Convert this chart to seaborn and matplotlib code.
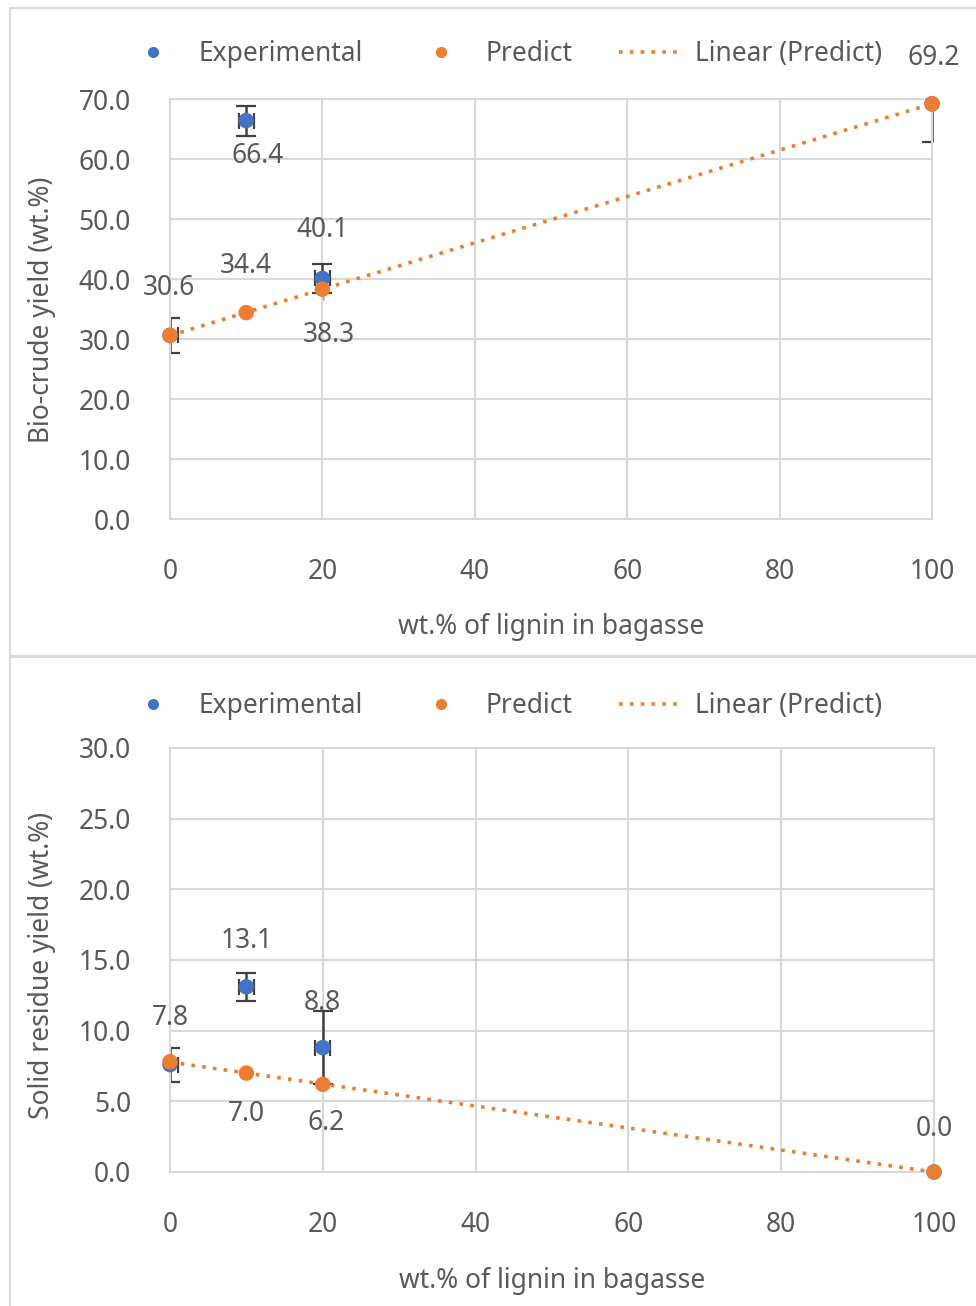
import numpy as np
import pandas as pd
import seaborn as sns
import matplotlib
matplotlib.use("Agg")
import matplotlib.pyplot as plt
from matplotlib.lines import Line2D
from matplotlib.patches import Rectangle
from matplotlib.transforms import Bbox, TransformedBbox

# ---- data -------------------------------------------------------------
lignin_pct = [0, 10, 20, 100]

biocrude_exp = [30.6, 66.4, 40.1, 69.2]
biocrude_exp_err = [2.9, 2.5, 2.4, 6.4]
biocrude_pred = [30.6, 34.4, 38.3, 69.2]

solid_exp = [7.6, 13.1, 8.8, 0.0]
solid_exp_err = [1.2, 1.0, 2.6, 0.0]
solid_pred = [7.8, 7.0, 6.2, 0.0]

x_err = [1.0, 1.0, 1.0, 0.0]

x_ticks = [0, 20, 40, 60, 80, 100]
x_label = "wt.% of lignin in bagasse"

# ---- style ------------------------------------------------------------
sns.set_theme(style="white")
plt.rcParams["font.family"] = ["Noto Sans", "DejaVu Sans"]

BLUE = "#4472C4"
ORANGE = "#ED7D31"
GRID = "#d9d9d9"
TEXT = "#595959"
ERR = "#404040"
FS = 19
DOTS = (0, (1, 2.0))

W, H = 976, 1306
fig = plt.figure(figsize=(W / 100, H / 100), dpi=100)


def px_axes(left, top, right, bottom):
    return fig.add_axes([left / W, 1 - bottom / H, (right - left) / W, (bottom - top) / H])


def draw_panel(ax, exp, exp_err, pred, ymax, ystep, ylabel, labels, ylab_y, xlab_y, leg_y):
    df = pd.DataFrame({"x": lignin_pct, "exp": exp, "pred": pred})

    # horizontal error bars (clipped to the plot area)
    ax.errorbar(lignin_pct, exp, xerr=x_err, fmt="none",
                ecolor=ERR, elinewidth=1.6, capsize=6, capthick=1.6, zorder=2)
    # vertical error bars: bar lines may sit on the plot edge, so widen their clip box
    eb = ax.errorbar(lignin_pct, exp, yerr=exp_err, fmt="none",
                     ecolor=ERR, elinewidth=1.8, capsize=7, capthick=1.6, zorder=2)
    wide = TransformedBbox(Bbox([[-0.006, 0.0], [1.006, 1.0]]), ax.transAxes)
    for coll in eb.lines[2]:
        coll.set_clip_box(wide)

    sns.scatterplot(data=df, x="x", y="exp", ax=ax, color=BLUE, s=125,
                    edgecolor="none", zorder=3, clip_on=False)
    sns.regplot(data=df, x="x", y="pred", ax=ax, scatter=False, ci=None,
                line_kws=dict(color=ORANGE, ls=DOTS, lw=2.6, zorder=3.5))
    sns.scatterplot(data=df, x="x", y="pred", ax=ax, color=ORANGE, s=125,
                    edgecolor="none", zorder=4, clip_on=False)

    ax.set_xlim(0, 100)
    ax.set_ylim(0, ymax)
    ax.set_xticks(x_ticks)
    ax.set_yticks(np.arange(0, ymax + 0.01, ystep))
    ax.yaxis.set_major_formatter(matplotlib.ticker.FormatStrFormatter("%.1f"))
    ax.grid(True, color=GRID, lw=1.5)
    ax.set_axisbelow(True)
    for s in ax.spines.values():
        s.set_color(GRID)
        s.set_linewidth(1.5)
    ax.tick_params(axis="both", length=0, labelsize=FS, labelcolor=TEXT)
    ax.tick_params(axis="y", pad=28)
    ax.tick_params(axis="x", pad=28)
    ax.set_xlabel("")
    ax.set_ylabel("")

    # data labels
    for (xv, yv, txt, dx, dy, leader) in labels:
        ax.annotate(txt, (xv, yv), xytext=(dx, dy), textcoords="offset pixels",
                    ha="center", va="center", fontsize=FS, color=TEXT, zorder=6,
                    annotation_clip=False,
                    arrowprops=(dict(arrowstyle="-", color="#a6a6a6", lw=1.2,
                                     shrinkA=13, shrinkB=6) if leader else None))

    bbox = ax.get_position()
    fig.text(42 / W, 1 - ylab_y / H, ylabel, rotation=90, ha="center", va="center",
             fontsize=FS, color=TEXT)
    fig.text((bbox.x0 + bbox.x1) / 2, 1 - xlab_y / H, x_label, ha="center", va="center",
             fontsize=FS, color=TEXT)

    handles = [
        Line2D([], [], ls="", marker="o", color=BLUE, markersize=7),
        Line2D([], [], ls="", marker="o", color=ORANGE, markersize=7),
        Line2D([], [], ls=DOTS, color=ORANGE, lw=2.6),
    ]
    fig.legend(handles, ["Experimental", "Predict", "Linear (Predict)"],
               loc="center", bbox_to_anchor=(502 / W, 1 - leg_y / H), ncol=3,
               frameon=False, fontsize=FS, labelcolor=TEXT, handlelength=2.4,
               handletextpad=0.5, columnspacing=1.75)


# panel frames
fig.add_artist(Rectangle((10 / W, 1 - 656 / H), 1.0, 648 / H, transform=fig.transFigure,
                         fill=False, ec=GRID, lw=1.5))
fig.add_artist(Rectangle((10 / W, -0.01), 1.0, 1 - 657 / H + 0.01, transform=fig.transFigure,
                         fill=False, ec=GRID, lw=1.5))

ax1 = px_axes(170, 99, 932, 519)
draw_panel(
    ax1, biocrude_exp, biocrude_exp_err, biocrude_pred, 70, 10,
    "Bio-crude yield (wt.%)",
    [
        (lignin_pct[0], biocrude_pred[0], "30.6", -1, 47, False),
        (lignin_pct[1], biocrude_pred[1], "34.4", 0, 47, False),
        (lignin_pct[2], biocrude_exp[2], "40.1", 0, 48, False),
        (lignin_pct[2], biocrude_pred[2], "38.3", 6, -46, True),
        (lignin_pct[1], biocrude_exp[1], "66.4", 11, -35, False),
        (lignin_pct[3], biocrude_pred[3], "69.2", 2, 46, False),
    ],
    ylab_y=310, xlab_y=627, leg_y=54,
)

ax2 = px_axes(170, 748, 934, 1172)
draw_panel(
    ax2, solid_exp, solid_exp_err, solid_pred, 30, 5,
    "Solid residue yield (wt.%)",
    [
        (lignin_pct[0], solid_pred[0], "7.8", 0, 44, False),
        (lignin_pct[1], solid_exp[1], "13.1", 0, 46, False),
        (lignin_pct[2], solid_exp[2], "8.8", 0, 45, False),
        (lignin_pct[1], solid_pred[1], "7.0", 0, -41, False),
        (lignin_pct[2], solid_pred[2], "6.2", 3, -39, False),
        (lignin_pct[3], solid_pred[3], "0.0", 0, 43, False),
    ],
    ylab_y=965, xlab_y=1281, leg_y=706,
)

fig.savefig("out.png", dpi=100, facecolor="white")
